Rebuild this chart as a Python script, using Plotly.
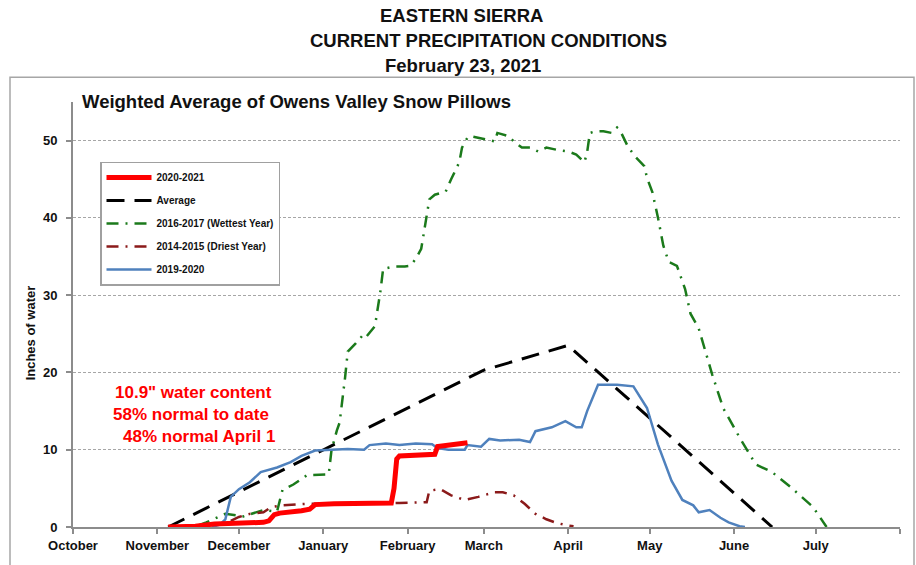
import plotly.graph_objects as go

FONT = "Liberation Sans, Arial, sans-serif"

# ---------------- data ----------------
month_ticks = ["2020-10-01", "2020-11-01", "2020-12-01", "2021-01-01", "2021-02-01",
               "2021-03-01", "2021-04-01", "2021-05-01", "2021-06-01", "2021-07-01",
               "2021-08-01"]
month_labels = ["October", "November", "December", "January", "February", "March",
                "April", "May", "June", "July", ""]

cur_dates = ["2020-11-05", "2020-11-15", "2020-11-22", "2020-12-01", "2020-12-10",
             "2020-12-12", "2020-12-14", "2020-12-16", "2020-12-20", "2020-12-24",
             "2020-12-27", "2020-12-29", "2021-01-05", "2021-01-15", "2021-01-26",
             "2021-01-27", "2021-01-28", "2021-01-29", "2021-02-05", "2021-02-11",
             "2021-02-12", "2021-02-16", "2021-02-20", "2021-02-23"]
cur_vals = [0.0, 0.1, 0.4, 0.5, 0.6, 0.8, 1.6, 1.8, 1.9, 2.1, 2.3, 2.9, 3.0, 3.0, 3.1,
            5.0, 8.8, 9.2, 9.3, 9.4, 10.4, 10.6, 10.8, 10.9]

avg_dates = ["2020-11-05", "2021-03-01", "2021-04-01", "2021-06-15"]
avg_vals = [0.0, 20.3, 23.5, 0.0]

wet_dates = ["2020-11-16", "2020-11-19", "2020-11-26", "2020-11-30", "2020-12-02",
             "2020-12-06", "2020-12-10", "2020-12-15", "2020-12-17", "2020-12-21",
             "2020-12-26", "2021-01-03", "2021-01-04", "2021-01-06", "2021-01-07",
             "2021-01-09", "2021-01-10", "2021-01-13", "2021-01-16", "2021-01-17",
             "2021-01-20", "2021-01-22", "2021-01-23", "2021-01-27", "2021-01-31",
             "2021-02-02", "2021-02-04", "2021-02-06", "2021-02-08", "2021-02-09",
             "2021-02-11", "2021-02-15", "2021-02-17", "2021-02-20", "2021-02-21",
             "2021-02-23", "2021-02-24", "2021-02-27", "2021-03-05", "2021-03-06",
             "2021-03-10", "2021-03-12", "2021-03-15", "2021-03-18", "2021-03-21",
             "2021-03-24", "2021-03-28", "2021-04-01", "2021-04-04", "2021-04-07",
             "2021-04-08", "2021-04-09", "2021-04-11", "2021-04-14", "2021-04-17",
             "2021-04-19", "2021-04-20", "2021-04-23", "2021-04-26", "2021-04-29",
             "2021-04-30", "2021-05-02", "2021-05-04", "2021-05-06", "2021-05-08",
             "2021-05-11", "2021-05-14", "2021-05-16", "2021-05-19", "2021-05-24",
             "2021-05-28", "2021-06-03", "2021-06-09", "2021-06-15", "2021-06-22",
             "2021-06-30", "2021-07-05"]
wet_vals = [0.2, 0.6, 1.7, 1.5, 1.3, 1.8, 2.2, 2.0, 4.8, 5.5,
            6.7, 6.8, 9.9, 12.5, 13.5, 19.3, 22.7, 23.8, 25.0, 24.7,
            26.0, 30.5, 33.4, 33.7, 33.7, 33.8, 34.7, 36.0, 40.2, 42.4,
            43.0, 43.4, 45.0, 47.2, 49.1, 50.4, 50.6, 50.4, 49.9, 51.0,
            50.6, 49.9, 49.1, 49.1, 48.6, 49.1, 48.8, 48.6, 48.2, 47.2,
            48.5, 51.0, 51.2, 51.2, 51.0, 51.7, 51.4, 49.2, 47.8, 46.7,
            45.2, 43.3, 40.1, 36.4, 34.3, 33.8, 30.8, 27.6, 25.7, 19.7,
            15.4, 11.6, 8.1, 7.1, 5.1, 2.6, 0.0]

dry_dates = ["2020-11-28", "2020-12-01", "2020-12-05", "2020-12-10", "2020-12-13",
             "2020-12-17", "2020-12-26", "2021-01-10", "2021-01-29", "2021-02-08",
             "2021-02-09", "2021-02-13", "2021-02-17", "2021-02-22", "2021-02-27",
             "2021-03-05", "2021-03-08", "2021-03-12", "2021-03-16", "2021-03-20",
             "2021-03-24", "2021-03-28", "2021-04-01", "2021-04-03"]
dry_vals = [0.8, 1.3, 1.7, 1.9, 2.6, 2.8, 3.0, 3.0, 3.1, 3.2, 4.7, 4.9, 4.1, 3.5, 3.9,
            4.5, 4.5, 4.1, 3.0, 1.7, 1.0, 0.5, 0.2, 0.1]

prev_dates = ["2020-11-21", "2020-11-24", "2020-11-26", "2020-11-28", "2020-12-01",
              "2020-12-05", "2020-12-09", "2020-12-15", "2020-12-20", "2020-12-24",
              "2020-12-29", "2021-01-03", "2021-01-10", "2021-01-16", "2021-01-18",
              "2021-01-24", "2021-01-29", "2021-02-04", "2021-02-10", "2021-02-12",
              "2021-02-16", "2021-02-22", "2021-02-23", "2021-02-28", "2021-03-03",
              "2021-03-07", "2021-03-14", "2021-03-18", "2021-03-20", "2021-03-26",
              "2021-03-31", "2021-04-04", "2021-04-06", "2021-04-08", "2021-04-12",
              "2021-04-19", "2021-04-25", "2021-04-30", "2021-05-04", "2021-05-09",
              "2021-05-13", "2021-05-17", "2021-05-19", "2021-05-23", "2021-05-27",
              "2021-05-30", "2021-06-03", "2021-06-05"]
prev_vals = [0.0, 0.3, 1.0, 3.9, 4.9, 5.8, 7.1, 7.7, 8.4, 9.2,
             9.9, 10.0, 10.1, 10.0, 10.6, 10.8, 10.6, 10.8, 10.7, 10.2,
             10.0, 10.0, 10.6, 10.4, 11.4, 11.2, 11.3, 11.0, 12.4, 12.9,
             13.7, 12.9, 12.9, 15.0, 18.4, 18.4, 18.2, 15.4, 10.7, 6.0,
             3.5, 2.8, 1.9, 2.2, 1.2, 0.6, 0.1, 0.0]

annot_lines = ["10.9\" water content", "58% normal to date", "48% normal April 1"]

# ---------------- figure ----------------
W, H = 916, 565
L, R, T, B = 73, 16, 102, 35
PW, PH = W - L - R, H - T - B


def px(x):
    return (x - L) / PW


def py(y):
    return (H - B - y) / PH


fig = go.Figure()

fig.add_trace(go.Scatter(x=avg_dates, y=avg_vals, mode="lines", name="Average",
                         line=dict(color="black", width=3, dash="18px,10px"),
                         legendrank=2, legendgroup="b"))
fig.add_trace(go.Scatter(x=wet_dates, y=wet_vals, mode="lines",
                         name="2016-2017 (Wettest Year)",
                         line=dict(color="#1b7a1b", width=2.5, dash="12px,7px,2px,7px"),
                         legendrank=3, legendgroup="c"))
fig.add_trace(go.Scatter(x=dry_dates, y=dry_vals, mode="lines",
                         name="2014-2015 (Driest Year)",
                         line=dict(color="#8b1a1a", width=2.5, dash="12px,7px,2px,7px"),
                         legendrank=4, legendgroup="d"))
fig.add_trace(go.Scatter(x=prev_dates, y=prev_vals, mode="lines", name="2019-2020",
                         line=dict(color="#4f81bd", width=2.5),
                         legendrank=5, legendgroup="e"))
fig.add_trace(go.Scatter(x=cur_dates, y=cur_vals, mode="lines", name="2020-2021",
                         line=dict(color="#ff0000", width=5),
                         legendrank=1, legendgroup="a"))

annotations = [
    dict(text="<b>EASTERN SIERRA</b>", x=px(461), y=py(15)),
    dict(text="<b>CURRENT PRECIPITATION CONDITIONS</b>", x=px(488), y=py(40)),
    dict(text="<b>February 23, 2021</b>", x=px(463), y=py(65)),
]
for a in annotations:
    a.update(xref="paper", yref="paper", xanchor="center", yanchor="middle",
             showarrow=False, font=dict(family=FONT, size=18.5, color="#111"))

annotations.append(dict(text="<b>Weighted Average of Owens Valley Snow Pillows</b>",
                        xref="paper", yref="paper", x=px(80), y=py(101),
                        xanchor="left", yanchor="middle", showarrow=False,
                        font=dict(family=FONT, size=18.5, color="#111")))
annotations.append(dict(text="<b>Inches of water</b>", xref="paper", yref="paper",
                        x=px(30), y=py(335), textangle=-90, xanchor="center",
                        yanchor="middle", showarrow=False,
                        font=dict(family=FONT, size=13, color="#111")))
for txt, cx, cy in zip(annot_lines, [193, 191, 199], [395, 417, 439]):
    annotations.append(dict(text="<b>" + txt + "</b>", xref="paper", yref="paper",
                            x=px(cx), y=py(cy), xanchor="center", yanchor="middle",
                            showarrow=False,
                            font=dict(family=FONT, size=17, color="#ff0000")))

shapes = [dict(type="rect", xref="paper", yref="paper",
               x0=px(10), x1=px(914), y0=py(600), y1=py(77),
               line=dict(color="#a6a6a6", width=1.5), fillcolor="rgba(0,0,0,0)",
               layer="below")]

fig.update_layout(
    width=W, height=H,
    margin=dict(l=L, r=R, t=T, b=B),
    paper_bgcolor="white", plot_bgcolor="white",
    font=dict(family=FONT, color="#111"),
    annotations=annotations,
    shapes=shapes,
    showlegend=True,
    legend=dict(x=px(100), y=py(162), xanchor="left", yanchor="top",
                bgcolor="white", bordercolor="#a0a0a0", borderwidth=1.5,
                font=dict(family=FONT, size=10, color="#111", weight="bold"),
                tracegroupgap=4, itemwidth=45, traceorder="grouped"),
    xaxis=dict(type="date", range=["2020-10-01", "2021-08-01"],
               tickvals=month_ticks, ticktext=month_labels,
               showgrid=False, zeroline=False,
               showline=True, linecolor="#8c8c8c", linewidth=2,
               ticks="outside", ticklen=5, tickcolor="#8c8c8c", tickwidth=1.5,
               tickfont=dict(family=FONT, size=13, color="#111", weight="bold")),
    yaxis=dict(range=[0, 55], tickvals=[0, 10, 20, 30, 40, 50],
               showgrid=True, gridcolor="#a6a6a6", griddash="3px,2px", gridwidth=1,
               zeroline=False, showline=True, linecolor="#8c8c8c", linewidth=2,
               ticks="outside", ticklen=5, tickcolor="#8c8c8c", tickwidth=1.5,
               ticklabelstandoff=6,
               tickfont=dict(family=FONT, size=13, color="#111", weight="bold")),
)

fig.write_html("out.html", config={"displayModeBar": False},
               post_script="document.body.style.margin='0px';")
